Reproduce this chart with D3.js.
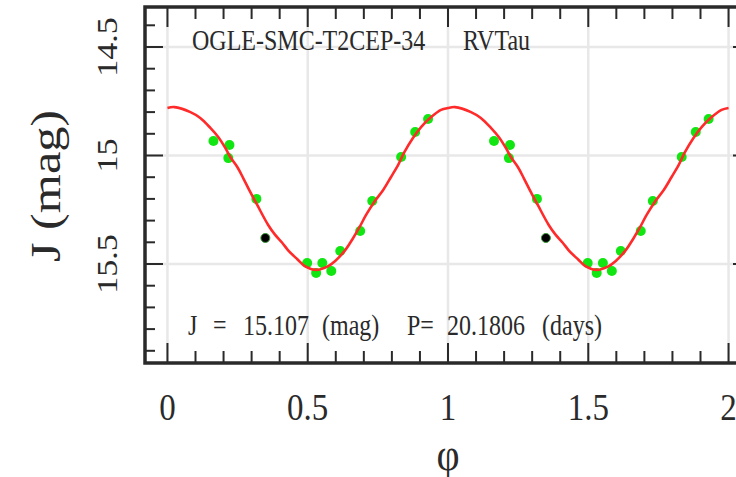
<!DOCTYPE html>
<html>
<head>
<meta charset="utf-8">
<script src="https://cdn.jsdelivr.net/npm/d3@7/dist/d3.min.js"></script>
<style>
  html, body { margin: 0; padding: 0; background: #fff; }
  svg { display: block; }
  text { font-family: "Liberation Serif", "DejaVu Serif", serif; fill: #2a2a2a; }
</style>
</head>
<body>
<svg id="chart" width="736" height="477"></svg>
<script>
// Fitted light curve (one cycle, phase 0..1) of OGLE-SMC-T2CEP-34
const curvePhase = [0.000, 0.025, 0.082, 0.117, 0.153, 0.181, 0.206, 0.224, 0.249, 0.270,
                    0.295, 0.320, 0.359, 0.384, 0.409, 0.431, 0.463, 0.491, 0.530, 0.570,
                    0.598, 0.633, 0.662, 0.683, 0.708, 0.737, 0.769, 0.797, 0.822, 0.843,
                    0.875, 0.904, 0.940, 0.975, 1.000];
const curveMag   = [14.781, 14.777, 14.800, 14.827, 14.873, 14.915, 14.965, 15.007, 15.053, 15.104,
                    15.168, 15.228, 15.320, 15.366, 15.402, 15.438, 15.478, 15.511, 15.527, 15.512,
                    15.486, 15.437, 15.380, 15.334, 15.274, 15.214, 15.159, 15.099, 15.044, 14.988,
                    14.919, 14.869, 14.823, 14.790, 14.781];

// J-band observations used in the fit
const obsPhase = [0.164, 0.221, 0.217, 0.317, 0.498, 0.530, 0.552, 0.584, 0.616, 0.687,
                  0.730, 0.833, 0.883, 0.929];
const obsMag   = [14.933, 14.952, 15.012, 15.200, 15.495, 15.541, 15.495, 15.532, 15.440, 15.348,
                  15.210, 15.007, 14.892, 14.832];

// Rejected observation
const rejPhase = [0.349];
const rejMag   = [15.380];

const xTickValues = [0, 0.5, 1, 1.5, 2];
const xTickLabels = ["0", "0.5", "1", "1.5", "2"];
const yTickValues = [14.5, 15, 15.5];
const yTickLabels = ["14.5", "15", "15.5"];

const starName = "OGLE-SMC-T2CEP-34";
const starType = "RVTau";
const infoParts = ["J", "=", "15.107", "(mag)", "P=", "20.1806", "(days)"];

const svg = d3.select("#chart");
const frameL = 145, frameR = 751, frameT = 7, frameB = 363;

const x = d3.scaleLinear().domain([-0.08, 2.08]).range([frameL, frameR]);
const y = d3.scaleLinear().domain([14.5, 15.5]).range([47, 264]);

const plot = svg.append("g");
plot.append("clipPath").attr("id", "clip")
  .append("rect").attr("x", frameL).attr("y", frameT)
  .attr("width", frameR - frameL).attr("height", frameB - frameT);

// grid
const grid = plot.append("g").attr("stroke", "#e8e8e8").attr("stroke-width", 2.5);
xTickValues.forEach(v => grid.append("line")
  .attr("x1", x(v)).attr("x2", x(v)).attr("y1", frameT).attr("y2", frameB));
yTickValues.forEach(v => grid.append("line")
  .attr("x1", frameL).attr("x2", frameR).attr("y1", y(v)).attr("y2", y(v)));

// ticks: major every 0.5, minor every 0.1, drawn inward on all four sides
const tickG = plot.append("g").attr("stroke", "#2a2a2a").attr("stroke-width", 2);
const xMinor = d3.range(0, 21).map(i => i / 10);
xMinor.forEach(v => {
  const major = Math.abs(v * 2 - Math.round(v * 2)) < 1e-6;
  const len = major ? 20 : 12;
  tickG.append("line").attr("x1", x(v)).attr("x2", x(v)).attr("y1", frameB).attr("y2", frameB - len);
  tickG.append("line").attr("x1", x(v)).attr("x2", x(v)).attr("y1", frameT).attr("y2", frameT + len);
});
const yMinor = d3.range(144, 160).map(i => i / 10);
yMinor.forEach(v => {
  const major = Math.abs(v * 2 - Math.round(v * 2)) < 1e-6;
  const len = major ? 18 : 10;
  tickG.append("line").attr("x1", frameL).attr("x2", frameL + len).attr("y1", y(v)).attr("y2", y(v));
  tickG.append("line").attr("x1", frameR).attr("x2", frameR - len).attr("y1", y(v)).attr("y2", y(v));
});

// observations, repeated over two cycles
const data = [];
[0, 1].forEach(k => obsPhase.forEach((p, i) => data.push([p + k, obsMag[i]])));
const rej = [];
[0, 1].forEach(k => rejPhase.forEach((p, i) => rej.push([p + k, rejMag[i]])));

const pts = plot.append("g").attr("clip-path", "url(#clip)");
pts.selectAll("circle.obs").data(data).join("circle")
  .attr("class", "obs")
  .attr("cx", d => x(d[0])).attr("cy", d => y(d[1])).attr("r", 5)
  .attr("fill", "#12e612");
pts.selectAll("circle.rej").data(rej).join("circle")
  .attr("class", "rej")
  .attr("cx", d => x(d[0])).attr("cy", d => y(d[1])).attr("r", 4.5)
  .attr("fill", "#000").attr("stroke", "#3a9a3a").attr("stroke-width", 1);

// fitted curve over two cycles
const curve = [];
[0, 1].forEach(k => curvePhase.forEach((p, i) => {
  if (k === 1 && i === 0) return;
  curve.push([p + k, curveMag[i]]);
}));
const line = d3.line().x(d => x(d[0])).y(d => y(d[1])).curve(d3.curveCatmullRom.alpha(0.5));
plot.append("path").datum(curve)
  .attr("d", line).attr("fill", "none")
  .attr("stroke", "#ff2a2a").attr("stroke-width", 2.6)
  .attr("clip-path", "url(#clip)");

// frame
plot.append("rect").attr("x", frameL).attr("y", frameT)
  .attr("width", frameR - frameL).attr("height", frameB - frameT)
  .attr("fill", "none").attr("stroke", "#2a2a2a").attr("stroke-width", 3.5);

// tick labels
const vs = 1.17;
xTickValues.forEach((v, i) => svg.append("text")
  .attr("transform", `translate(${x(v)},420) scale(1,${vs})`)
  .attr("text-anchor", "middle").attr("font-size", 33)
  .text(xTickLabels[i]));
yTickValues.forEach((v, i) => svg.append("text")
  .attr("transform", `translate(117,${y(v)}) scale(1,${vs}) rotate(-90)`)
  .attr("text-anchor", "middle").attr("font-size", 29)
  .text(yTickLabels[i]));

// axis titles
svg.append("text")
  .attr("transform", `translate(60,186) scale(1,${vs}) rotate(-90)`)
  .attr("text-anchor", "middle").attr("font-size", 43)
  .text("J (mag)");
svg.append("text")
  .attr("transform", `translate(${x(1)},470) scale(1,${vs})`)
  .attr("text-anchor", "middle").attr("font-size", 40)
  .text("φ");

// annotations inside the plot
svg.append("text").attr("transform", `translate(192,50) scale(1,1.2)`)
  .attr("font-size", 24).text(starName);
svg.append("text").attr("transform", `translate(463,50) scale(1,1.2)`)
  .attr("font-size", 24).text(starType);
const infoX = [188, 213, 243, 322, 407, 447, 542];
infoParts.forEach((t, i) => svg.append("text")
  .attr("transform", `translate(${infoX[i]},335) scale(1,1.2)`)
  .attr("font-size", 24).text(t));
</script>
</body>
</html>
